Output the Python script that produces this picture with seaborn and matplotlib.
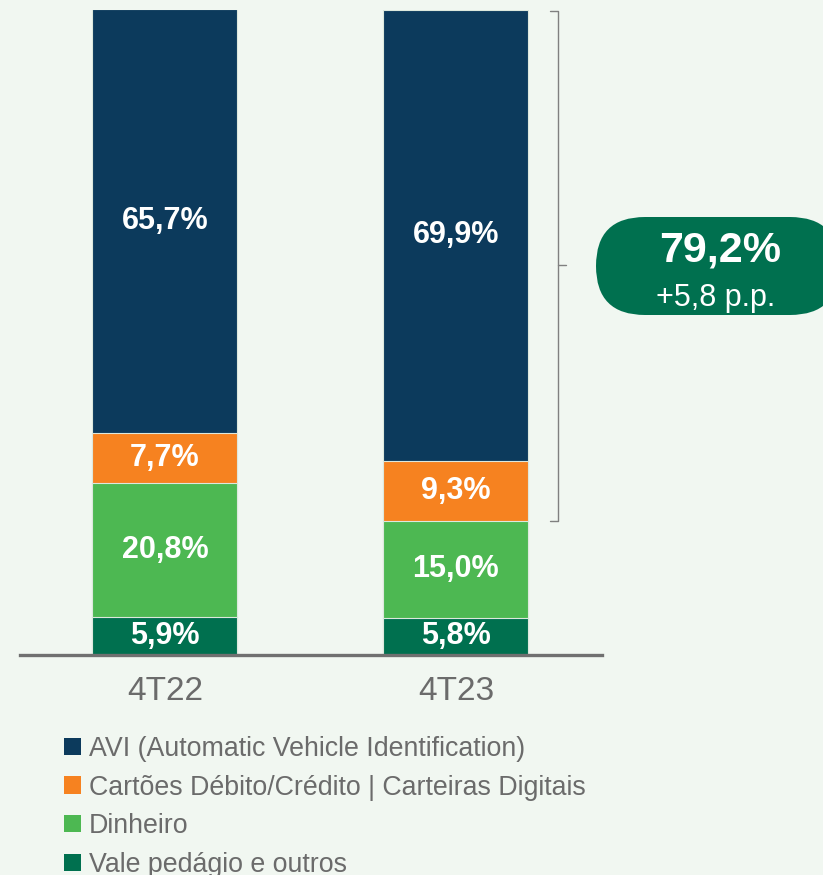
import numpy as np
import matplotlib
matplotlib.use("Agg")
import matplotlib.pyplot as plt
from matplotlib.patches import FancyBboxPatch, Patch
import seaborn as sns

# data
quarters = ["4T22", "4T23"]
vale = [5.9, 5.8]
dinheiro = [20.8, 15.0]
cartoes = [7.7, 9.3]
avi = [65.7, 69.9]

series_names = ["Vale pedágio e outros", "Dinheiro",
                "Cartões Débito/Crédito | Carteiras Digitais",
                "AVI (Automatic Vehicle Identification)"]
colors = ["#00704F", "#4DB852", "#F68220", "#0C3A5C"]
total_label = "79,2%"
delta_label = "+5,8 p.p."

bg = "#F1F7F1"
grey = "#6B6B6B"

sns.set_theme(style="white", rc={"figure.facecolor": bg, "axes.facecolor": bg})
plt.rcParams["font.family"] = ["Liberation Sans", "DejaVu Sans"]

W, H = 823, 875
fig = plt.figure(figsize=(W / 100, H / 100), dpi=100)
ax = fig.add_axes([20 / W, 220 / H, 582 / W, 645 / H])

layers = np.array([vale, dinheiro, cartoes, avi])
cum = np.cumsum(layers, axis=0)

# draw the tallest stack first so the lower segments sit on top
for i in range(len(layers) - 1, -1, -1):
    sns.barplot(x=quarters, y=cum[i], color=colors[i], saturation=1,
                width=0.498, edgecolor="#DDE8DD", linewidth=0.8, ax=ax)

for i in range(len(layers)):
    for j in range(len(quarters)):
        mid = cum[i][j] - layers[i][j] / 2
        txt = f"{layers[i][j]:.1f}%".replace(".", ",")
        ax.text(j, mid, txt, ha="center", va="center", color="white",
                fontsize=22, fontweight="bold")

ax.set_xlim(-0.498, 1.502)
ax.set_ylim(0, 100)
ax.set_yticks([])
ax.set_xlabel("")
ax.set_ylabel("")
for s in ["top", "left", "right"]:
    ax.spines[s].set_visible(False)
ax.spines["bottom"].set_color("#707070")
ax.spines["bottom"].set_linewidth(2.4)
ax.tick_params(axis="x", length=0, pad=15, labelsize=24, labelcolor=grey)

# bracket over AVI + cartoes of 4T23
b_lo = cum[1][1]
b_hi = 100
bx = 1.35
ax.plot([bx - 0.028, bx, bx, bx - 0.028], [b_hi - 0.15, b_hi - 0.15, b_lo, b_lo],
        color="#808080", lw=1, clip_on=False)
ax.plot([bx, bx + 0.03], [(b_lo + b_hi) / 2] * 2, color="#808080", lw=1, clip_on=False)

# overlay in pixel coords for the pill
ov = fig.add_axes([0, 0, 1, 1], facecolor="none")
ov.set_xlim(0, W)
ov.set_ylim(H, 0)
ov.axis("off")
pill = FancyBboxPatch((596, 217), 243, 98, boxstyle="round,pad=0,rounding_size=49",
                      facecolor="#00704F", edgecolor="none", clip_on=False)
ov.add_patch(pill)
ov.text(720, 250, total_label, ha="center", va="center", color="white",
        fontsize=31, fontweight="bold")
ov.text(716, 298, delta_label, ha="center", va="center", color="white", fontsize=22)

handles = [Patch(facecolor=colors[i], edgecolor="none") for i in range(3, -1, -1)]
labels = [series_names[i] for i in range(3, -1, -1)]
fig.legend(handles, labels, loc="upper left", bbox_to_anchor=(64 / W, 1 - 736 / H),
           frameon=False, fontsize=19.3, labelcolor=grey, handlelength=0.62,
           handleheight=0.62, handletextpad=0.3, labelspacing=0.47,
           borderpad=0, borderaxespad=0)

fig.savefig("out.png", dpi=100, facecolor=bg)
